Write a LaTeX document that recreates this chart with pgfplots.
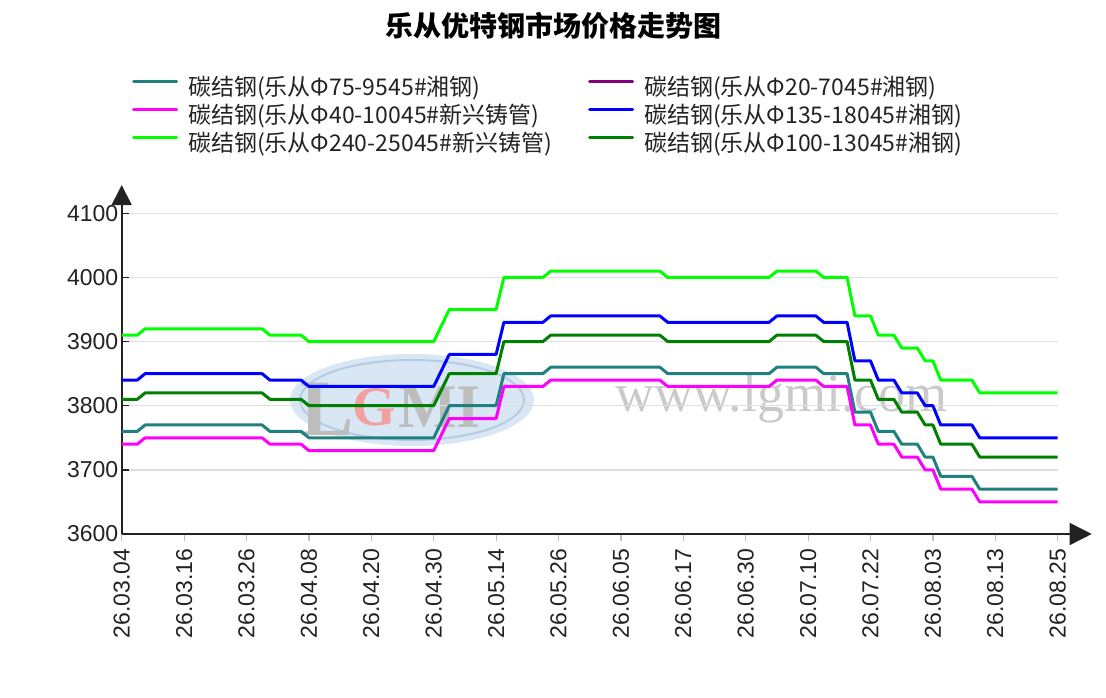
\documentclass[border=0pt]{standalone}
\usepackage{fontspec}
\setmainfont{Liberation Sans}
\newfontfamily\cjk{Noto Sans CJK SC}
\newfontfamily\wmserif{Liberation Serif}
\usepackage{pgfplots}
\pgfplotsset{compat=1.18}
\usetikzlibrary{arrows.meta}
\definecolor{cteal}{HTML}{208080}
\definecolor{cpurple}{HTML}{800080}
\definecolor{cmagenta}{HTML}{FF00FF}
\definecolor{cblue}{HTML}{0000FF}
\definecolor{clime}{HTML}{00FF00}
\definecolor{cdkgreen}{HTML}{008000}
\definecolor{axisc}{HTML}{222222}
\definecolor{tickc}{HTML}{222222}
\definecolor{wmblue}{HTML}{C9DCEE}
\definecolor{wmring}{HTML}{9DBBD8}
\definecolor{wmgray}{HTML}{BDBDBD}
\definecolor{wmred}{HTML}{F2A0A0}
\begin{document}
\begin{tikzpicture}[x=1pt,y=1pt]
\useasboundingbox (0,0) rectangle (1106,698);
% watermark
\fill[wmblue, opacity=0.7] (412,298) ellipse [x radius=122, y radius=46];
\draw[wmring, line width=2pt, opacity=0.6] (412,298) ellipse [x radius=112, y radius=40];
\node[anchor=base west, inner sep=0pt, text=wmgray, font=\wmserif\bfseries\fontsize{80}{80}\selectfont] at (300,262) {L};
\node[anchor=base west, inner sep=0pt, text=wmred, font=\wmserif\bfseries\fontsize{56}{56}\selectfont] at (352,272) {G};
\node[anchor=base west, inner sep=0pt, text=wmgray, font=\wmserif\bfseries\fontsize{62}{62}\selectfont] at (398,270) {MI};
\node[anchor=base west, inner sep=0pt, text=wmgray!80, font=\wmserif\fontsize{54}{54}\selectfont] at (615,286) {www.lgmi.com};
% title
\node[font=\cjk\bfseries\fontsize{28}{28}\selectfont] at (553,672) {乐从优特钢市场价格走势图};
\begin{axis}[
  at={(121.7pt,164pt)}, anchor=south west,
  scale only axis, width=936pt, height=348.9pt,
  xmin=0, xmax=120, ymin=3600, ymax=4144,
  axis lines*=left,
  axis line style={draw=axisc, line width=1.6pt},
  x axis line style={-{Triangle[width=22pt,length=22pt]}, shorten >=-34pt},
  y axis line style={-{Triangle[width=20pt,length=20pt]}},
  xtick={0,8,...,120},
  xticklabels={26.03.04,26.03.16,26.03.26,26.04.08,26.04.20,26.04.30,26.05.14,26.05.26,26.06.05,26.06.17,26.06.30,26.07.10,26.07.22,26.08.03,26.08.13,26.08.25},
  ytick={3600,3700,...,4100},
  scaled y ticks=false,
  /pgf/number format/assume math mode=true,
  /pgf/number format/1000 sep={},
  tick align=inside, major tick length=7pt,
  xtick style={draw=gray!50, line width=1.2pt, yshift=-7pt},
  ytick style={draw=axisc, line width=1.5pt},
  ymajorgrids, major grid style={draw=gray!25, line width=1.3pt},
  ticklabel style={font=\fontsize{23}{23}\selectfont, text=tickc},
  xticklabel style={yshift=-11pt, rotate=90, anchor=east},
  legend columns=2, legend cell align=left,
  legend style={at={(0.011,1.3127)}, anchor=north west, draw=none, fill=none,
    inner sep=0pt, row sep=2pt, font=\cjk\fontsize{23}{23}\selectfont, text=tickc,
    nodes={inner sep=1pt, text height=18pt, text depth=6pt, text width=399pt, align=left},
    /tikz/every odd column/.append style={column sep=9pt}},
  legend image code/.code={\draw[#1, line width=3pt] (0pt,8pt) -- (43pt,8pt);},
  every axis plot/.append style={line width=3pt, line join=round, line cap=round, forget plot},
]
% teal  Φ75-9545
\addplot[cteal] coordinates {(0,3760)(2,3760)(3,3770)(18,3770)(19,3760)(23,3760)(24,3750)(40,3750)(42,3800)(48,3800)(49,3850)(54,3850)(55,3860)(69,3860)(70,3850)(83,3850)(84,3860)(89,3860)(90,3850)(93,3850)(94,3790)(96,3790)(97,3760)(99,3760)(100,3740)(102,3740)(103,3720)(104,3720)(105,3690)(109,3690)(110,3670)(120,3670)};
% magenta Φ40-10045
\addplot[cmagenta] coordinates {(0,3740)(2,3740)(3,3750)(18,3750)(19,3740)(23,3740)(24,3730)(40,3730)(42,3780)(48,3780)(49,3830)(54,3830)(55,3840)(69,3840)(70,3830)(83,3830)(84,3840)(89,3840)(90,3830)(93,3830)(94,3770)(96,3770)(97,3740)(99,3740)(100,3720)(102,3720)(103,3700)(104,3700)(105,3670)(109,3670)(110,3650)(120,3650)};
% blue Φ135-18045
\addplot[cblue] coordinates {(0,3840)(2,3840)(3,3850)(18,3850)(19,3840)(23,3840)(24,3830)(40,3830)(42,3880)(48,3880)(49,3930)(54,3930)(55,3940)(69,3940)(70,3930)(83,3930)(84,3940)(89,3940)(90,3930)(93,3930)(94,3870)(96,3870)(97,3840)(99,3840)(100,3820)(102,3820)(103,3800)(104,3800)(105,3770)(109,3770)(110,3750)(120,3750)};
% lime Φ240-25045
\addplot[clime] coordinates {(0,3910)(2,3910)(3,3920)(18,3920)(19,3910)(23,3910)(24,3900)(40,3900)(42,3950)(48,3950)(49,4000)(54,4000)(55,4010)(69,4010)(70,4000)(83,4000)(84,4010)(89,4010)(90,4000)(93,4000)(94,3940)(96,3940)(97,3910)(99,3910)(100,3890)(102,3890)(103,3870)(104,3870)(105,3840)(109,3840)(110,3820)(120,3820)};
% dark green Φ100-13045
\addplot[cdkgreen] coordinates {(0,3810)(2,3810)(3,3820)(18,3820)(19,3810)(23,3810)(24,3800)(40,3800)(42,3850)(48,3850)(49,3900)(54,3900)(55,3910)(69,3910)(70,3900)(83,3900)(84,3910)(89,3910)(90,3900)(93,3900)(94,3840)(96,3840)(97,3810)(99,3810)(100,3790)(102,3790)(103,3770)(104,3770)(105,3740)(109,3740)(110,3720)(120,3720)};
\addlegendimage{cteal}
\addlegendentry{碳结钢(乐从Φ75-9545\#湘钢)}
\addlegendimage{cpurple}
\addlegendentry{碳结钢(乐从Φ20-7045\#湘钢)}
\addlegendimage{cmagenta}
\addlegendentry{碳结钢(乐从Φ40-10045\#新兴铸管)}
\addlegendimage{cblue}
\addlegendentry{碳结钢(乐从Φ135-18045\#湘钢)}
\addlegendimage{clime}
\addlegendentry{碳结钢(乐从Φ240-25045\#新兴铸管)}
\addlegendimage{cdkgreen}
\addlegendentry{碳结钢(乐从Φ100-13045\#湘钢)}
\end{axis}
\end{tikzpicture}
\end{document}
